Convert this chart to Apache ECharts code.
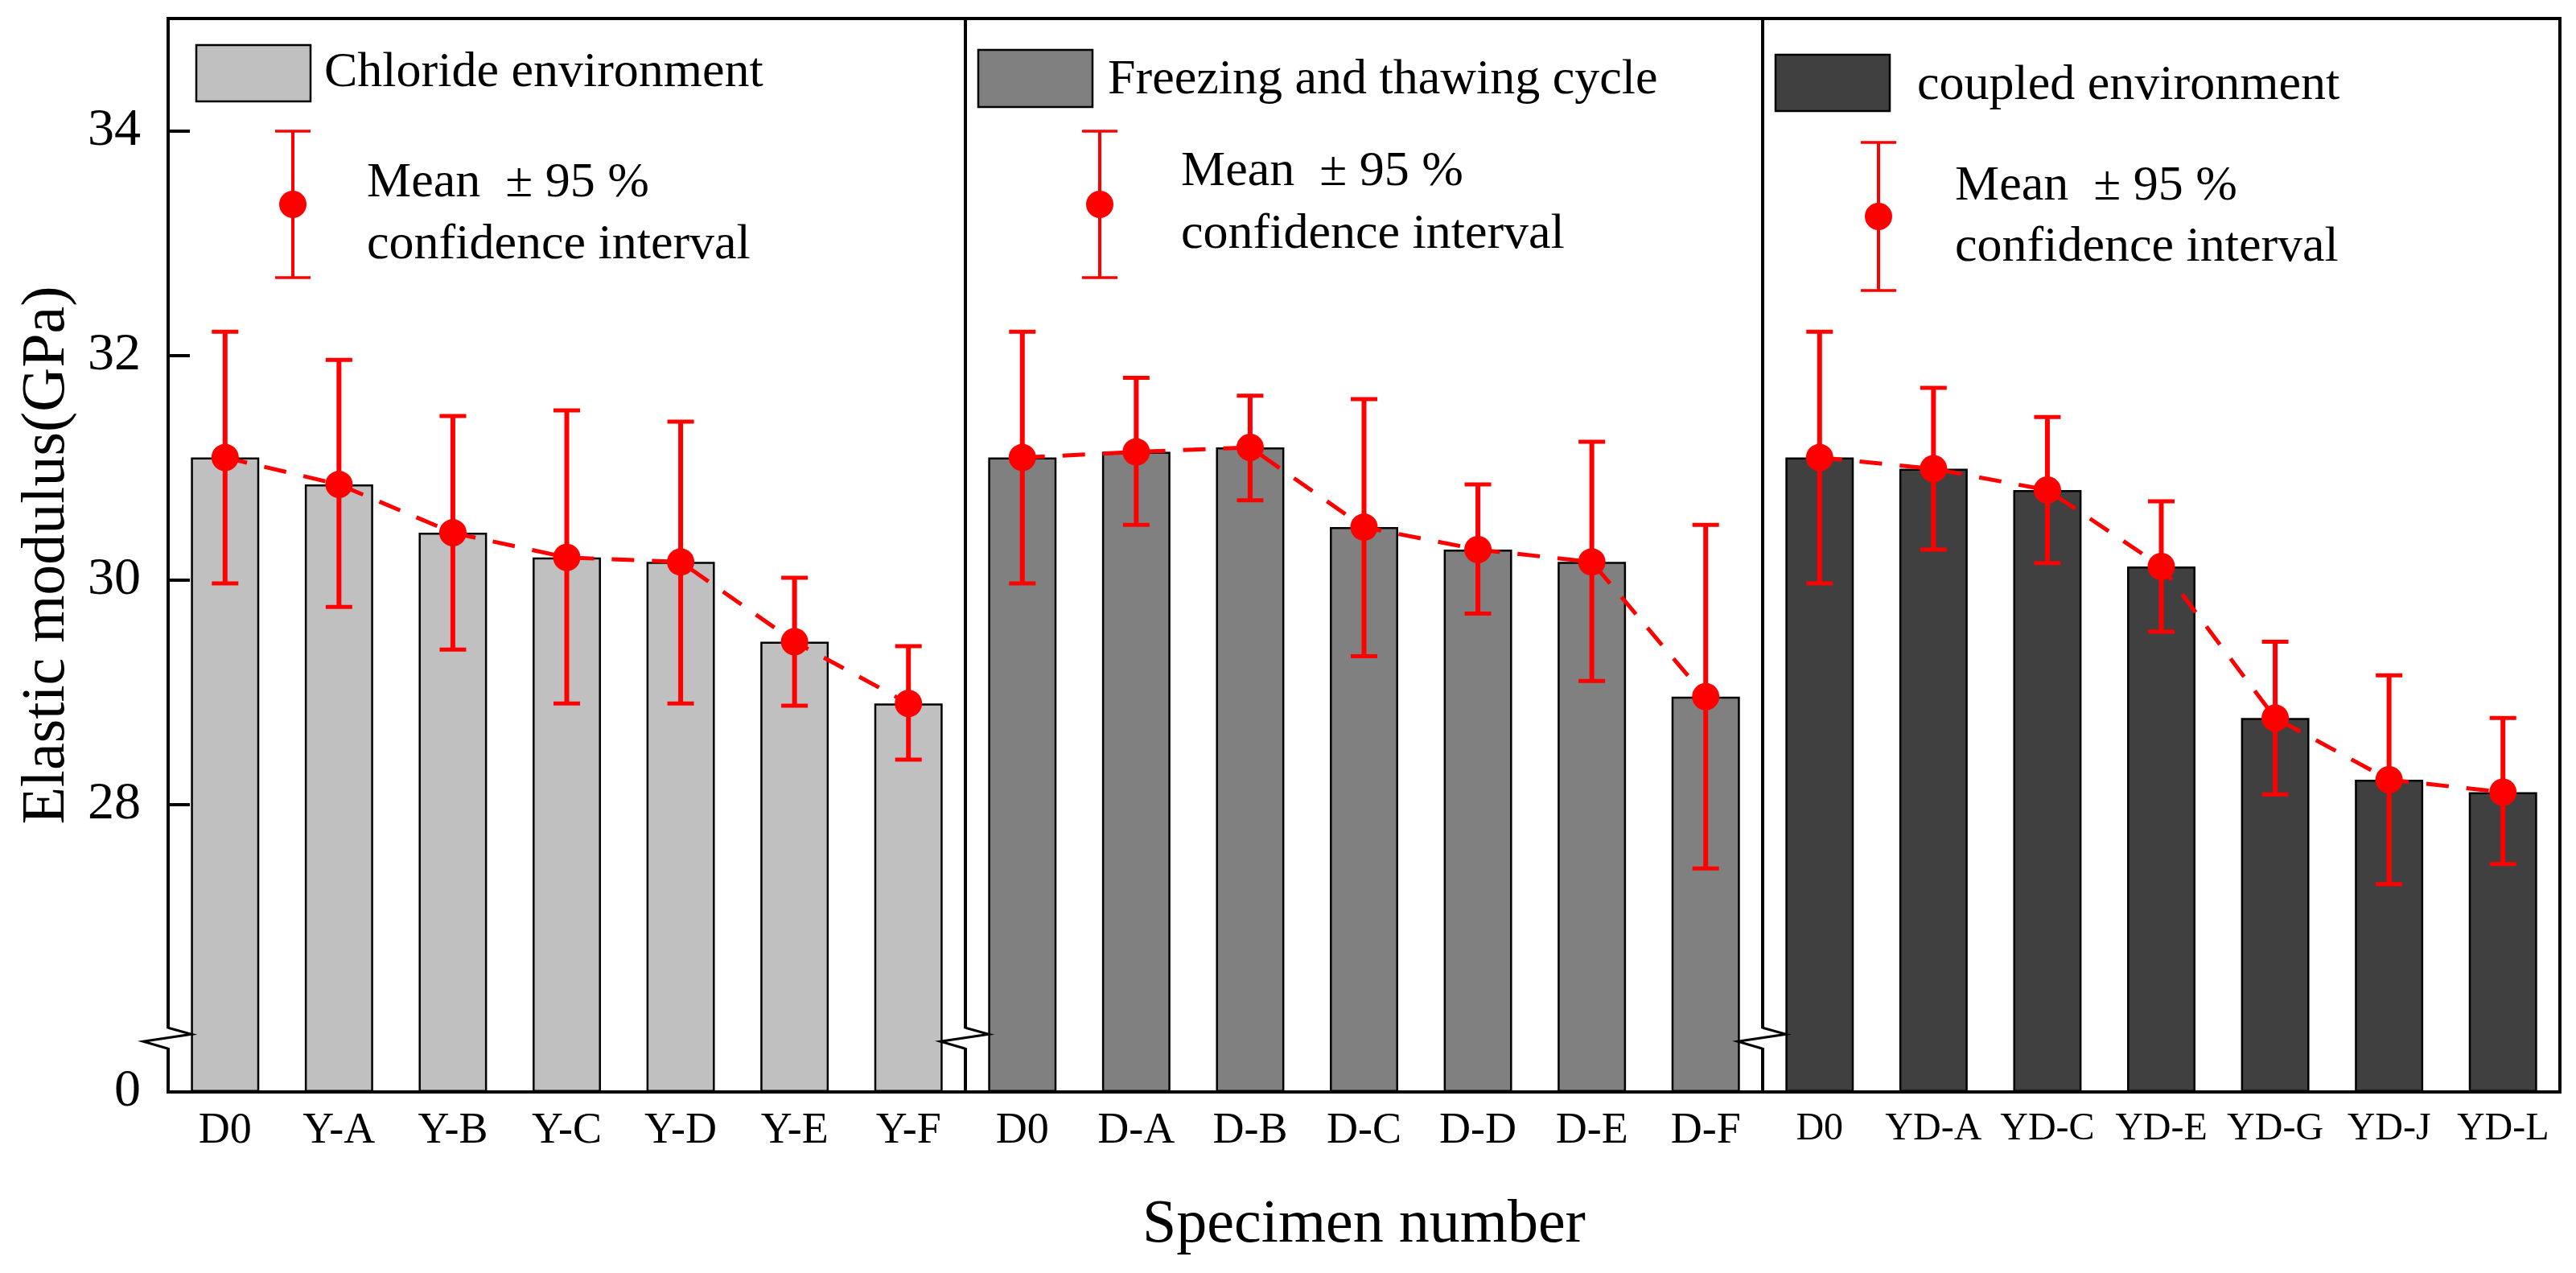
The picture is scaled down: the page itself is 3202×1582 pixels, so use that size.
<!DOCTYPE html>
<html><head><meta charset="utf-8">
<script src="https://cdn.jsdelivr.net/npm/echarts@6/dist/echarts.min.js"></script>
<style>html,body{margin:0;padding:0;background:#fff}#c{width:3202px;height:1582px}</style>
</head><body><div id="c"></div>
<script>
// ---------- data ----------
const catsChloride = ['D0','Y-A','Y-B','Y-C','Y-D','Y-E','Y-F'];
const catsFreeze   = ['D0','D-A','D-B','D-C','D-D','D-E','D-F'];
const catsCoupled  = ['D0','YD-A','YD-C','YD-E','YD-G','YD-J','YD-L'];

const meanChloride  = [31.09,30.85,30.42,30.20,30.16,29.45,28.90];
const upperChloride = [32.21,31.96,31.46,31.51,31.41,30.02,29.41];
const lowerChloride = [29.97,29.76,29.38,28.90,28.90,28.88,28.40];

const meanFreeze  = [31.09,31.14,31.18,30.47,30.27,30.16,28.96];
const upperFreeze = [32.21,31.80,31.64,31.61,30.85,31.23,30.49];
const lowerFreeze = [29.97,30.49,30.71,29.32,29.70,29.10,27.43];

const meanCoupled  = [31.09,30.99,30.80,30.12,28.77,28.22,28.11];
const upperCoupled = [32.21,31.71,31.45,30.70,29.45,29.15,28.77];
const lowerCoupled = [29.97,30.27,30.15,29.54,28.09,27.29,27.47];

const yTickValues  = [28,30,32,34];
const yLabelValues = [0,28,30,32,34];
const legendNames  = ['Chloride environment','Freezing and thawing cycle','coupled environment'];
const ciLine1 = 'Mean  \u00B1 95 %';
const ciLine2 = 'confidence interval';
const yTitle = 'Elastic modulus(GPa)';
const xTitle = 'Specimen number';

// ---------- styling / layout ----------
const FONT = '"Liberation Serif", "Times New Roman", serif';
const RED = '#ff0000';
const barColors = ['#c0c0c0','#808080','#404040'];
const gridLefts = [209, 1200, 2191];
const gridW = 991, gridTop = 23, gridBottom = 225;

const panels = [
  {cats: catsChloride, mean: meanChloride, up: upperChloride, lo: lowerChloride},
  {cats: catsFreeze,   mean: meanFreeze,   up: upperFreeze,   lo: lowerFreeze},
  {cats: catsCoupled,  mean: meanCoupled,  up: upperCoupled,  lo: lowerCoupled}
];

const chart = echarts.init(document.getElementById('c'), null, {renderer:'canvas'});

const grids = [], xAxes = [], yAxes = [], series = [];
panels.forEach((p, i) => {
  grids.push({left: gridLefts[i], width: gridW, top: gridTop, bottom: gridBottom,
    show: true, borderColor: '#000', borderWidth: 4, backgroundColor: 'transparent'});
  xAxes.push({
    type: 'category', gridIndex: i, data: p.cats,
    axisLine: {show: false}, axisTick: {show: false},
    axisLabel: {interval: 0, hideOverlap: false, fontFamily: FONT, fontSize: i === 2 ? 48 : 54, color: '#000', margin: 22},
    name: i === 1 ? xTitle : '', nameLocation: 'middle', nameGap: 128,
    nameTextStyle: {fontFamily: FONT, fontSize: 76, color: '#000'}
  });
  yAxes.push({
    type: 'value', gridIndex: i, min: 0, max: 35,
    breaks: [{start: 0.5, end: 25.94, gap: 0}],
    breakArea: {show: false},
    splitLine: {show: false},
    axisLine: {show: false},
    axisTick: {show: i === 0, inside: true, length: 27, customValues: yTickValues,
      lineStyle: {color: '#000', width: 4}},
    axisLabel: {show: i === 0, customValues: yLabelValues, fontFamily: FONT, fontSize: 66,
      color: '#000', margin: 34},
    name: i === 0 ? yTitle : '', nameLocation: 'middle', nameGap: 112,
    nameTextStyle: {fontFamily: FONT, fontSize: 76, color: '#000'}
  });
  series.push({
    type: 'bar', xAxisIndex: i, yAxisIndex: i, data: p.mean, barWidth: '60%',
    itemStyle: {color: barColors[i], borderColor: '#000', borderWidth: 2.5}, z: 2
  });
  series.push({
    type: 'custom', xAxisIndex: i, yAxisIndex: i, z: 4,
    data: p.cats.map((c, k) => [k, p.up[k], p.lo[k]]),
    encode: {x: 0, y: [1, 2]},
    renderItem: function (params, api) {
      const k = api.value(0);
      const hi = api.coord([k, api.value(1)]);
      const lo = api.coord([k, api.value(2)]);
      const hw = 16.5;
      const st = {stroke: RED, lineWidth: 6};
      const cs = {stroke: RED, lineWidth: 5};
      return {type: 'group', children: [
        {type: 'line', shape: {x1: hi[0], y1: hi[1], x2: lo[0], y2: lo[1]}, style: st},
        {type: 'line', shape: {x1: hi[0]-hw, y1: hi[1], x2: hi[0]+hw, y2: hi[1]}, style: cs},
        {type: 'line', shape: {x1: lo[0]-hw, y1: lo[1], x2: lo[0]+hw, y2: lo[1]}, style: cs}
      ]};
    }
  });
  series.push({
    type: 'line', xAxisIndex: i, yAxisIndex: i, data: p.mean, z: 5,
    symbol: 'circle', symbolSize: 34, itemStyle: {color: RED},
    lineStyle: {color: RED, width: 5, type: [28, 22]}
  });
});

chart.setOption({
  backgroundColor: '#fff', animation: false,
  grid: grids, xAxis: xAxes, yAxis: yAxes, series: series
});

// ---------- decorations: legends and axis-break marks ----------
let breakY = chart.convertToPixel({yAxisIndex: 0}, 0.5);
if (!isFinite(breakY)) breakY = 1287;
const legendLayout = [
  {sw: 35, swY: 56, swH: 70, tx: 194, ty: 91, ex: 155, eTop: 163, eBot: 345, eDot: 254, mx: 247, my1: 228, my2: 305},
  {sw: 16, swY: 62, swH: 71, tx: 177, ty: 100, ex: 167, eTop: 163, eBot: 345, eDot: 254, mx: 268, my1: 214, my2: 292},
  {sw: 16, swY: 68, swH: 70, tx: 192, ty: 107, ex: 144, eTop: 177, eBot: 361, eDot: 269, mx: 239, my1: 232, my2: 308}
];
const graphics = [];
gridLefts.forEach((L, i) => {
  const g = legendLayout[i];
  graphics.push({type: 'rect', z: 20, shape: {x: L + g.sw, y: g.swY, width: 142, height: g.swH},
    style: {fill: barColors[i], stroke: '#000', lineWidth: 2.5}});
  graphics.push({type: 'text', z: 20, x: L + g.tx, y: g.ty,
    style: {text: legendNames[i], font: '62px ' + FONT, fill: '#000', align: 'left', verticalAlign: 'middle'}});
  const ex = L + g.ex;
  graphics.push({type: 'line', z: 20, shape: {x1: ex, y1: g.eTop, x2: ex, y2: g.eBot}, style: {stroke: RED, lineWidth: 4}});
  graphics.push({type: 'line', z: 20, shape: {x1: ex-22, y1: g.eTop, x2: ex+22, y2: g.eTop}, style: {stroke: RED, lineWidth: 3.5}});
  graphics.push({type: 'line', z: 20, shape: {x1: ex-22, y1: g.eBot, x2: ex+22, y2: g.eBot}, style: {stroke: RED, lineWidth: 3.5}});
  graphics.push({type: 'circle', z: 21, shape: {cx: ex, cy: g.eDot, r: 17}, style: {fill: RED}});
  graphics.push({type: 'text', z: 20, x: L + g.mx, y: g.my1,
    style: {text: ciLine1, font: '62px ' + FONT, fill: '#000', align: 'left', verticalAlign: 'middle'}});
  graphics.push({type: 'text', z: 20, x: L + g.mx, y: g.my2,
    style: {text: ciLine2, font: '62px ' + FONT, fill: '#000', align: 'left', verticalAlign: 'middle'}});
  // break mark
  const yb = breakY + 2;
  graphics.push({type: 'rect', z: 30, shape: {x: L - 4, y: yb - 11, width: 8, height: 24}, style: {fill: '#fff'}});
  graphics.push({type: 'polyline', z: 31,
    shape: {points: [[L, yb - 12], [L + 29, yb - 4], [L - 31, yb + 5], [L, yb + 14]]},
    style: {stroke: '#000', lineWidth: 3, fill: null}});
});
chart.setOption({graphic: graphics});
</script></body></html>
